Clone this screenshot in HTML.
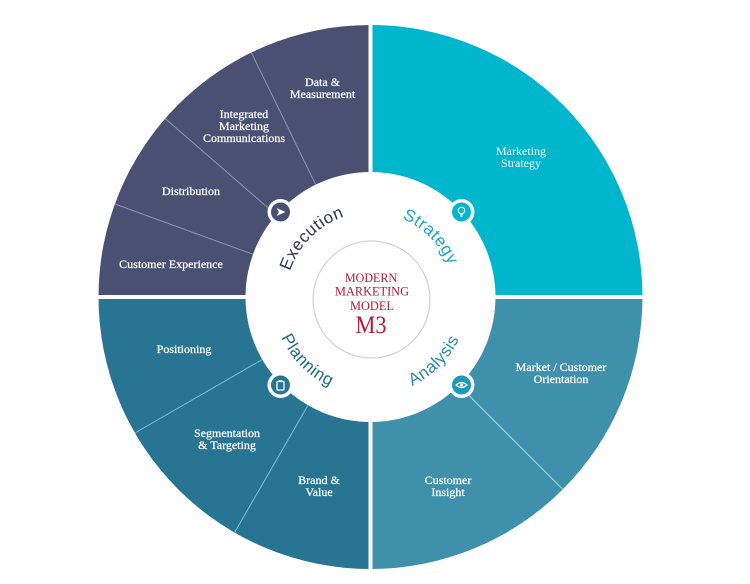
<!DOCTYPE html>
<html>
<head>
<meta charset="utf-8">
<style>
  html, body { margin: 0; padding: 0; background: #ffffff; }
  svg { display: block; }
  .lbl { font-family: "Liberation Serif", "DejaVu Serif", serif; font-size: 12px; fill: #ffffff; stroke: #ffffff; stroke-width: 0.25; text-anchor: middle; }
  .arc { font-family: "Liberation Sans", "DejaVu Sans", sans-serif; font-size: 17px; letter-spacing: 0.6px; }
  .ctr { font-family: "Liberation Serif", "DejaVu Serif", serif; fill: #b31b34; text-anchor: middle; }
</style>
</head>
<body>
<svg width="750" height="584" viewBox="0 0 750 584" xmlns="http://www.w3.org/2000/svg">
  <rect x="0" y="0" width="750" height="584" fill="#ffffff"/>

  <!-- Quadrants -->
  <path d="M98.5,297 A272,272 0 0 1 370.5,25 L370.5,172 A125,125 0 0 0 245.5,297 Z" fill="#4a5072"/>
  <path d="M370.5,25 A272,272 0 0 1 642.5,297 L495.5,297 A125,125 0 0 0 370.5,172 Z" fill="#00b6cc"/>
  <path d="M642.5,297 A272,272 0 0 1 370.5,569 L370.5,422 A125,125 0 0 0 495.5,297 Z" fill="#3f90aa"/>
  <path d="M370.5,569 A272,272 0 0 1 98.5,297 L245.5,297 A125,125 0 0 0 370.5,422 Z" fill="#277592"/>

  <!-- gaps -->
  <rect x="368.5" y="15" width="4" height="565" fill="#ffffff"/>
  <rect x="90" y="295" width="560" height="4" fill="#ffffff"/>

  <!-- separator lines -->
  <g stroke="#8d92b0" stroke-width="1">
    <line x1="253.0" y1="254.3" x2="114.9" y2="204.0"/>
    <line x1="276.2" y1="215.0" x2="165.2" y2="118.5"/>
    <line x1="315.7" y1="184.6" x2="251.3" y2="52.5"/>
  </g>
  <g stroke="#7dc0d8" stroke-width="1">
    <line x1="262.3" y1="359.5" x2="134.9" y2="433.0"/>
    <line x1="308.0" y1="405.3" x2="234.5" y2="532.6"/>
  </g>
  <line x1="458.9" y1="385.4" x2="562.8" y2="489.3" stroke="#a6dbe9" stroke-width="1"/>

  <!-- Labels: Execution -->
  <text class="lbl" x="322.5" y="86">Data &amp;</text>
  <text class="lbl" x="322.5" y="98">Measurement</text>
  <text class="lbl" x="244" y="118">Integrated</text>
  <text class="lbl" x="244" y="130">Marketing</text>
  <text class="lbl" x="244" y="142">Communications</text>
  <text class="lbl" x="191" y="195">Distribution</text>
  <text class="lbl" x="171" y="268">Customer Experience</text>

  <!-- Strategy -->
  <text class="lbl" x="521" y="155" style="stroke-width:0">Marketing</text>
  <text class="lbl" x="521" y="167" style="stroke-width:0">Strategy</text>

  <!-- Planning -->
  <text class="lbl" x="184" y="353">Positioning</text>
  <text class="lbl" x="227" y="437">Segmentation</text>
  <text class="lbl" x="227" y="449">&amp; Targeting</text>
  <text class="lbl" x="319" y="484">Brand &amp;</text>
  <text class="lbl" x="319" y="496">Value</text>

  <!-- Analysis -->
  <text class="lbl" x="561" y="371">Market / Customer</text>
  <text class="lbl" x="561" y="383">Orientation</text>
  <text class="lbl" x="448" y="484">Customer</text>
  <text class="lbl" x="448" y="496">Insight</text>

  <!-- Center circle -->
  <circle cx="371.5" cy="299.5" r="58.5" fill="#ffffff" stroke="#d0d0d0" stroke-width="1.2"/>
  <text class="ctr" x="371" y="282" font-size="12.5" textLength="52" lengthAdjust="spacingAndGlyphs">MODERN</text>
  <text class="ctr" x="372" y="295.5" font-size="12.5" textLength="74" lengthAdjust="spacingAndGlyphs">MARKETING</text>
  <text class="ctr" x="372" y="310" font-size="12.5" textLength="44" lengthAdjust="spacingAndGlyphs">MODEL</text>
  <text class="ctr" x="371" y="333" font-size="25" textLength="31" lengthAdjust="spacingAndGlyphs">M3</text>

  <!-- Curved text paths -->
  <defs>
    <path id="pExec" d="M309.7,357.8 A86,86 0 0 1 431.3,236.2"/>
    <path id="pStrat" d="M309.7,236.2 A86,86 0 0 1 431.3,357.8"/>
    <path id="pPlan" d="M301.2,227.7 A98,98 0 0 0 439.8,366.3"/>
    <path id="pAnal" d="M301.2,366.3 A98,98 0 0 0 439.8,227.7"/>
  </defs>
  <text class="arc" fill="#2d3352"><textPath href="#pExec" startOffset="50%" text-anchor="middle">Execution</textPath></text>
  <text class="arc" fill="#1aa7bc"><textPath href="#pStrat" startOffset="50%" text-anchor="middle">Strategy</textPath></text>
  <text class="arc" fill="#1f6a86"><textPath href="#pPlan" startOffset="50%" text-anchor="middle">Planning</textPath></text>
  <text class="arc" fill="#2a8aa8"><textPath href="#pAnal" startOffset="50%" text-anchor="middle">Analysis</textPath></text>

  <!-- Icons -->
  <g transform="translate(280.5,212)">
    <circle r="13" fill="#ffffff"/>
    <circle r="9.5" fill="#4a5072"/>
    <polygon points="-4,-4 5,0 -4,4 -1.5,0" fill="#ffffff"/>
  </g>
  <g transform="translate(461.5,212)">
    <circle r="13" fill="#ffffff"/>
    <circle r="9.5" fill="#00b6cc"/>
    <circle cx="0" cy="-1.5" r="3.2" fill="none" stroke="#ffffff" stroke-width="1.2"/>
    <line x1="-1.5" y1="2.8" x2="1.5" y2="2.8" stroke="#ffffff" stroke-width="1.1"/>
    <line x1="-1" y1="4.3" x2="1" y2="4.3" stroke="#ffffff" stroke-width="1.1"/>
  </g>
  <g transform="translate(280.5,385)">
    <circle r="13" fill="#ffffff"/>
    <circle r="9.5" fill="#277592"/>
    <rect x="-3.5" y="-3.5" width="7" height="8.5" rx="0.8" fill="none" stroke="#ffffff" stroke-width="1.3"/>
    <rect x="-1.8" y="-5" width="3.6" height="2" fill="#ffffff"/>
  </g>
  <g transform="translate(461.5,385)">
    <circle r="13" fill="#ffffff"/>
    <circle r="9.5" fill="#1a9cb9"/>
    <path d="M-5.5,0 Q0,-5 5.5,0 Q0,5 -5.5,0 Z" fill="none" stroke="#ffffff" stroke-width="1.2"/>
    <circle r="1.6" fill="#ffffff"/>
  </g>
</svg>
</body>
</html>
